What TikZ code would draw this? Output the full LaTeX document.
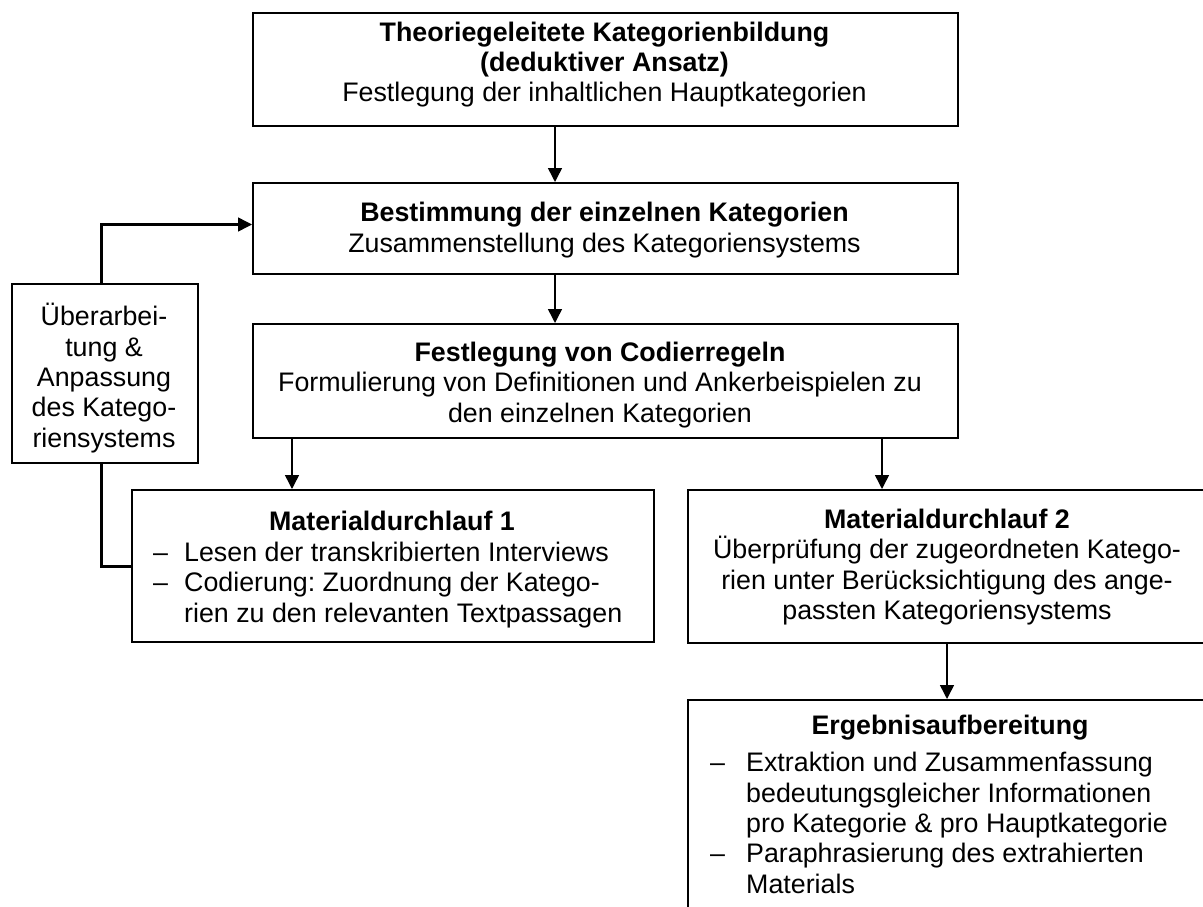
\documentclass[tikz,border=0pt]{standalone}
\usepackage{fontspec}
\setmainfont{Liberation Sans}
\usetikzlibrary{arrows.meta}
\newcommand\diafont{\fontsize{26.8}{30.3}\selectfont\frenchspacing}
\begin{document}
\begin{tikzpicture}[x=1pt,y=-1pt,
  box/.style={draw, line width=2pt, inner sep=0pt, anchor=north west},
  txt/.style={inner sep=0pt, align=center, font=\diafont},
  ltxt/.style={inner sep=0pt, align=left, font=\diafont},
  arr/.style={line width=1.5pt, -{Triangle[length=14pt,width=14pt]}},
  loop/.style={line width=3pt}]
\useasboundingbox (0,0) rectangle (1203,907);
\clip (0,0) rectangle (1203,907);
\fill[white] (0,0) rectangle (1203,907);

% boxes
\node[box, minimum width=705pt, minimum height=113pt] (b1) at (252,12) {};
\node[box, minimum width=705pt, minimum height=91pt] (b2) at (252,182) {};
\node[box, minimum width=705pt, minimum height=114pt] (b3) at (252,323) {};
\node[box, minimum width=186pt, minimum height=179pt] (lb) at (11,283) {};
\node[box, minimum width=522pt, minimum height=152pt] (m1) at (131,489) {};
\node[box, minimum width=520pt, minimum height=153pt] (m2) at (687,489) {};
\node[box, minimum width=520pt, minimum height=260pt] (er) at (687,699) {};

% texts
\node[txt] (b1t) at (604.5,64.5) {\textbf{Theoriegeleitete Kategorienbildung}\\\textbf{(deduktiver Ansatz)}\\Festlegung der inhaltlichen Hauptkategorien};
\node[txt] (b2t) at (604.5,230) {\textbf{Bestimmung der einzelnen Kategorien}\\Zusammenstellung des Kategoriensystems};
\node[txt] (b3t) at (600,385) {\textbf{Festlegung von Codierregeln}\\Formulierung von Definitionen und Ankerbeispielen zu\\den einzelnen Kategorien};
\node[txt] (lbt) at (104,378) {Überarbei-\\tung \&\\Anpassung\\des Katego-\\riensystems};
\node[txt] (m1h) at (392,521) {\textbf{Materialdurchlauf 1}};
\node[ltxt, anchor=west] (m1l) at (153,585) {\makebox[31pt][l]{\textendash}Lesen der transkribierten Interviews\\\makebox[31pt][l]{\textendash}Codierung: Zuordnung der Katego-\\\hspace*{31pt}rien zu den relevanten Textpassagen};
\node[txt] (m2t) at (947,567) {\textbf{Materialdurchlauf 2}\\Überprüfung der zugeordneten Katego-\\rien unter Berücksichtigung des ange-\\passten Kategoriensystems};
\node[txt] (erh) at (950,728) {\textbf{Ergebnisaufbereitung}};
\node[ltxt, anchor=west] (erl) at (710,823) {\makebox[36pt][l]{\textendash}Extraktion und Zusammenfassung\\\hspace*{36pt}bedeutungsgleicher Informationen\\\hspace*{36pt}pro Kategorie \& pro Hauptkategorie\\\makebox[36pt][l]{\textendash}Paraphrasierung des extrahierten\\\hspace*{36pt}Materials};

% arrow columns
\coordinate (c1) at (555,0);
\coordinate (c2) at (292,0);
\coordinate (c3) at (882,0);
\coordinate (c4) at (947,0);

\draw[arr] (b1.south -| c1) -- (b2.north -| c1);
\draw[arr] (b2.south -| c1) -- (b3.north -| c1);
\draw[arr] (b3.south -| c2) -- (m1.north -| c2);
\draw[arr] (b3.south -| c3) -- (m2.north -| c3);
\draw[arr] (m2.south -| c4) -- (er.north -| c4);

% feedback loop
\coordinate (lx) at (101,0);
\draw[loop] (lb.north -| lx) |- ([xshift=-14pt,yshift=4pt]b2.west);
\draw[arr] ([xshift=-20pt,yshift=4pt]b2.west) -- ([yshift=4pt]b2.west);
\draw[loop] (lb.south -| lx) |- (m1.west);
\end{tikzpicture}
\end{document}
